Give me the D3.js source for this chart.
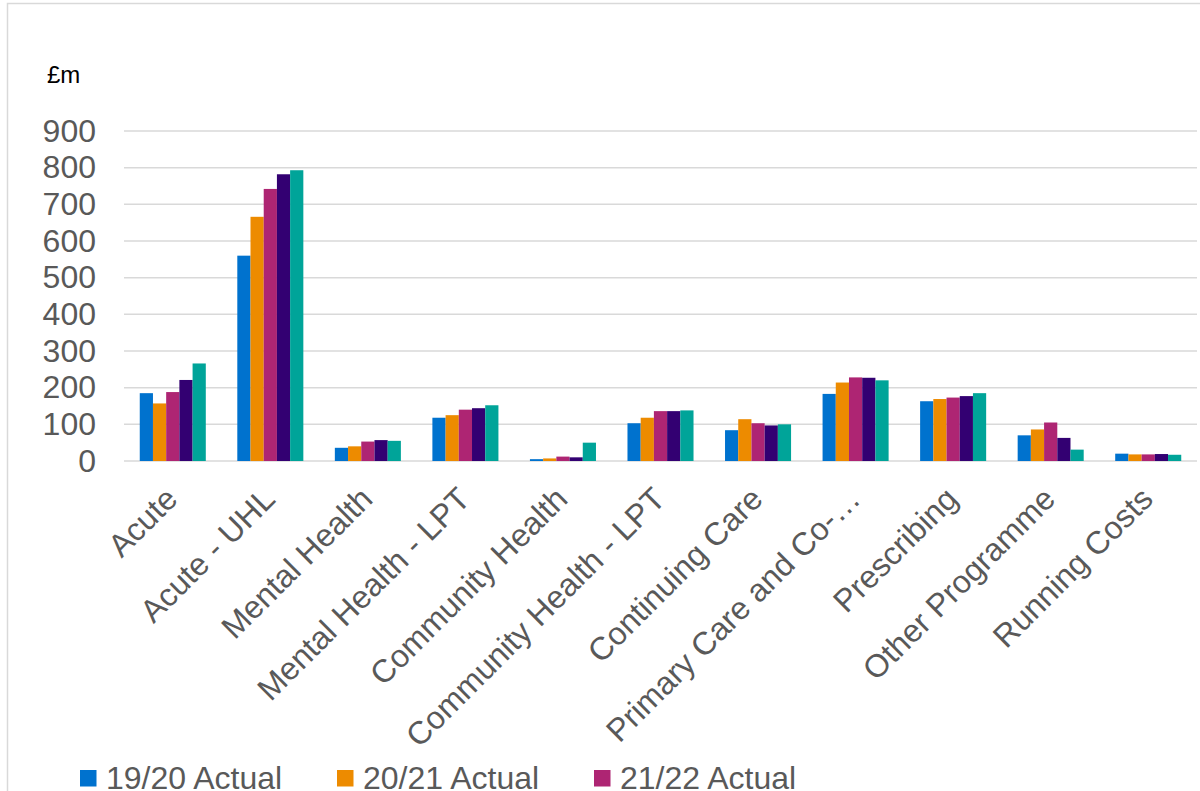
<!DOCTYPE html>
<html>
<head>
<meta charset="utf-8">
<script src="https://cdn.jsdelivr.net/npm/d3@7"></script>
<style>
  html, body { margin: 0; padding: 0; background: #fff; overflow: hidden; }
  svg { display: block; font-family: "Liberation Sans", Arial, sans-serif; }
</style>
</head>
<body>
<svg id="chart" width="1200" height="791"></svg>
<script>
// ---- data ----
const categories = ["Acute", "Acute - UHL", "Mental Health", "Mental Health - LPT", "Community Health",
  "Community Health - LPT", "Continuing Care", "Primary Care and Co-\u2026", "Prescribing",
  "Other Programme", "Running Costs"];
const seriesNames = ["19/20 Actual", "20/21 Actual", "21/22 Actual", "22/23 Forecast", "23/24 Plan"];
const seriesColors = ["#0072CE", "#ED8B00", "#AE2573", "#330072", "#00A499"];
const values1920 = [185, 560, 36, 118, 5, 103, 84, 183, 163, 70, 20];
const values2021 = [157, 666, 40, 125, 7, 118, 114, 214, 169, 86, 18];
const values2122 = [188, 742, 53, 140, 12, 136, 103, 228, 173, 105, 18];
const values2223 = [221, 782, 57, 144, 10, 136, 97, 227, 177, 63, 19];
const values2324 = [266, 793, 55, 152, 50, 138, 100, 220, 185, 31, 17];
const yTicks = [0, 100, 200, 300, 400, 500, 600, 700, 800, 900];
const yUnit = "\u00a3m";

const allSeries = [values1920, values2021, values2122, values2223, values2324];

// ---- layout ----
const svg = d3.select("#chart");
const plotLeft = 124, plotRight = 1197, plotTop = 131, plotBottom = 461;
const fontSize = 32;

// chart frame
svg.append("rect")
  .attr("x", 7.5).attr("y", 3.5).attr("width", 1230).attr("height", 830)
  .attr("fill", "none").attr("stroke", "#d9d9d9").attr("stroke-width", 1.5);

const y = d3.scaleLinear().domain([0, 900]).range([plotBottom, plotTop]);
const x0 = d3.scaleBand().domain(categories).range([plotLeft, plotRight])
  .paddingInner(0.323).paddingOuter(0.1615);
const x1 = d3.scaleBand().domain(d3.range(seriesNames.length)).range([0, x0.bandwidth()]).padding(0);

// gridlines
svg.append("g").selectAll("line").data(yTicks).join("line")
  .attr("x1", plotLeft).attr("x2", plotRight)
  .attr("y1", d => y(d)).attr("y2", d => y(d))
  .attr("stroke", "#d9d9d9").attr("stroke-width", 1.5);

// y axis labels via d3 axis
const yAxis = svg.append("g").attr("transform", `translate(${plotLeft - 28},0)`)
  .call(d3.axisLeft(y).tickValues(yTicks).tickSize(0).tickPadding(0));
yAxis.select(".domain").remove();
yAxis.selectAll("text")
  .attr("font-size", fontSize).attr("fill", "#595959")
  .attr("font-family", "'Liberation Sans', Arial, sans-serif");

// unit label
svg.append("text").attr("x", 47).attr("y", 83)
  .attr("font-size", 24).attr("fill", "#000").text(yUnit);

// bars
const groups = svg.append("g").selectAll("g").data(categories).join("g")
  .attr("transform", d => `translate(${x0(d)},0)`);
groups.selectAll("rect")
  .data((d, i) => allSeries.map((s, k) => ({ k, v: s[i] })))
  .join("rect")
  .attr("x", d => x1(d.k))
  .attr("width", x1.bandwidth())
  .attr("y", d => y(d.v))
  .attr("height", d => y(0) - y(d.v))
  .attr("fill", d => seriesColors[d.k]);

// x labels (rotated)
svg.append("g").selectAll("text").data(categories).join("text")
  .attr("transform", d => `translate(${x0(d) + x0.bandwidth() / 2 + 6.5},501) rotate(-45)`)
  .attr("text-anchor", "end")
  .attr("font-size", fontSize).attr("fill", "#595959")
  .text(d => d);

// legend (3 per row; remaining rows fall below the visible area)
const legend = svg.append("g").selectAll("g").data(seriesNames).join("g")
  .attr("transform", (d, i) => `translate(${80 + (i % 3) * 257},${770 + Math.floor(i / 3) * 42})`);
legend.append("rect").attr("width", 16.5).attr("height", 16.5)
  .attr("fill", (d, i) => seriesColors[i]);
legend.append("text").attr("x", 26).attr("y", 19)
  .attr("font-size", fontSize).attr("fill", "#595959").text(d => d);
</script>
</body>
</html>
